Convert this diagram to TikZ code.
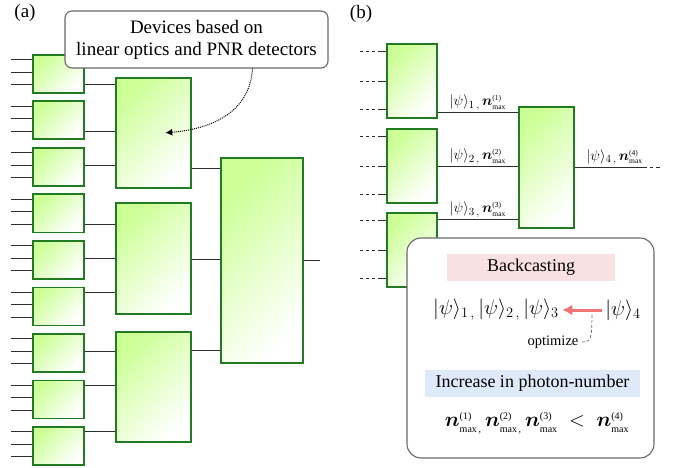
\documentclass[tikz,border=0pt]{standalone}
\usepackage{amsmath}
\usepackage{fontspec}
\setmainfont{Liberation Serif}
\newfontfamily\tmsfont{Liberation Serif}
\usepackage{xcolor}
\usepackage{tikz}
\usetikzlibrary{calc}
\usetikzlibrary{arrows.meta}

\definecolor{gboxfill}{RGB}{204,255,150}
\definecolor{gboxedge}{RGB}{34,122,34}
\definecolor{wirecol}{RGB}{45,45,45}
\definecolor{notegray}{RGB}{105,105,105}
\definecolor{backpink}{RGB}{249,225,225}
\definecolor{incblue}{RGB}{222,234,250}
\definecolor{optred}{RGB}{240,118,118}

\newcommand{\psik}[1]{\lvert\psi\rangle_{#1}}
\newcommand{\nmax}[2][]{\boldsymbol{n}^{\scriptscriptstyle\text{(#2)}}_{\scriptscriptstyle\text{max#1}}}

\tikzset{
	gbox/.style={draw=gboxedge, line width=1.6pt, top color=gboxfill, bottom color=white, shading angle=45, inner sep=0pt, anchor=north west},
	wireline/.style={draw=wirecol, line width=1.2pt},
	notebox/.style={draw=notegray, line width=1.1pt, fill=white, rounded corners=7pt},
	lab/.style={font=\tmsfont\fontsize{15}{17}\selectfont, inner sep=2pt},
	big/.style={font=\tmsfont\fontsize{#1}{#1}\selectfont},
}

\begin{document}
\begin{tikzpicture}[x=1pt,y=-1pt]
	\useasboundingbox (0,0) rectangle (683,468);

	\node [big=19] (pa) at (25,13) {(a)};
	\node [big=19] (pb) at (361,14) {(b)};

	\node [gbox, minimum width=75pt, minimum height=110pt] (v1) at (115,77) {};
	\node [gbox, minimum width=75pt, minimum height=111pt] (v2) at (115,202) {};
	\node [gbox, minimum width=75pt, minimum height=110pt] (v3) at (115,331) {};
	\node [gbox, minimum width=82pt, minimum height=205pt] (w) at (220,157) {};

	\foreach \i/\y/\o/\k in {1/54/11/1, 2/100.5/11/1, 3/147/-1.5/1, 4/193.5/11/2, 5/240/-1.5/2, 6/286.5/-14/2, 7/333/-1.5/3, 8/379.5/-14/3, 9/426/-14/3} {
		\node [gbox, minimum width=51pt, minimum height=38pt] (u\i) at (32,\y) {};
		\foreach \d in {-14,-1.5,11}
			\draw [wireline] (u\i.west) ++(0,\d) -- ++(-21,0);
		\draw [wireline] (u\i.east) ++(0,\o) coordinate (c) -- (c -| v\k.west);
	}

	\draw [wireline] (v1.east) ++(0,36) coordinate (c) -- (c -| w.west);
	\draw [wireline] (v2.east) ++(0,1.5) coordinate (c) -- (c -| w.west);
	\draw [wireline] (v3.east) ++(0,-36) coordinate (c) -- (c -| w.west);
	\draw [wireline] (w.east) -- ++(16,0);

	\node [notebox, minimum width=263pt, minimum height=57pt, align=center, font=\tmsfont\fontsize{19}{22}\selectfont] (dev) at (196.5,39.5) {Devices based on\\linear optics and PNR detectors};
	\draw [densely dotted, line width=1pt, -{Latex[length=7pt,width=7pt]}] ([xshift=56pt]dev.south) .. controls (250,112) and (212,129) .. ([xshift=12pt]v1.center);

	\node [gbox, minimum width=50pt, minimum height=74pt] (s1) at (386,43) {};
	\node [gbox, minimum width=50pt, minimum height=74pt] (s2) at (386,128) {};
	\node [gbox, minimum width=50pt, minimum height=74pt] (s3) at (386,212) {};
	\node [gbox, minimum width=55pt, minimum height=121pt] (t) at (518,106) {};

	\foreach \s in {1,2,3}
		\foreach \d in {-29,1,29}
			\draw [wireline, dash pattern=on 8pt off 3pt on 3pt off 3pt on 3pt off 3pt on 3pt off 20pt] (s\s.west) ++(0,\d) -- ++(-26,0);

	\draw [wireline] (s1.east) ++(0,32) coordinate (c) -- (c -| t.west) node [midway, above, lab] {$\psik{1\,,}\,\nmax{1}$};
	\draw [wireline] (s2.east) ++(0,1) coordinate (c) -- (c -| t.west) node [midway, above, lab] {$\psik{2\,,}\,\nmax{2}$};
	\draw [wireline] (s3.east) ++(0,-30) coordinate (c) -- (c -| t.west) node [midway, above, lab] {$\psik{3\,,}\,\nmax{3}$};
	\draw [wireline, dash pattern=on 72pt off 3pt on 3pt off 3pt on 4pt off 20pt] (t.east) -- ++(85,0) node [pos=0.47, above, lab] {$\psik{4\,,}\,\nmax{4}$};

	\node [notebox, rounded corners=14pt, minimum width=247pt, minimum height=220pt] (bc) at (530.5,348) {};
	\node [fill=backpink, minimum width=168pt, minimum height=27pt, big=18] (back) at (531,267.5) {Backcasting};
	\node [big=20] (p123) at (496,310) {$\psik{1\,,}\,\psik{2\,,}\,\psik{3}$};
	\node [big=20] (p4) at (623,310) {$\psik{4}$};
	\draw [optred, line width=3pt, -{Latex[length=10pt,width=11pt]}] (p4.west) -- (p123.east);
	\node [big=14.5] (opt) at (553,342) {optimize};
	\draw [densely dashed, line width=0.7pt, notegray] ($(p123.east)!0.75!(p4.west)+(0,5)$) .. controls +(0,24) and +(9,0) .. (opt.east);
	\node [fill=incblue, minimum width=215pt, minimum height=27pt, big=18] (inc) at (532.5,383.5) {Increase in photon-number};
	\node [big=20] (nf) at (537,423) {$\nmax[\,,]{1}\,\nmax[\,,]{2}\,\nmax{3}\;<\;\nmax{4}$};
\end{tikzpicture}
\end{document}
